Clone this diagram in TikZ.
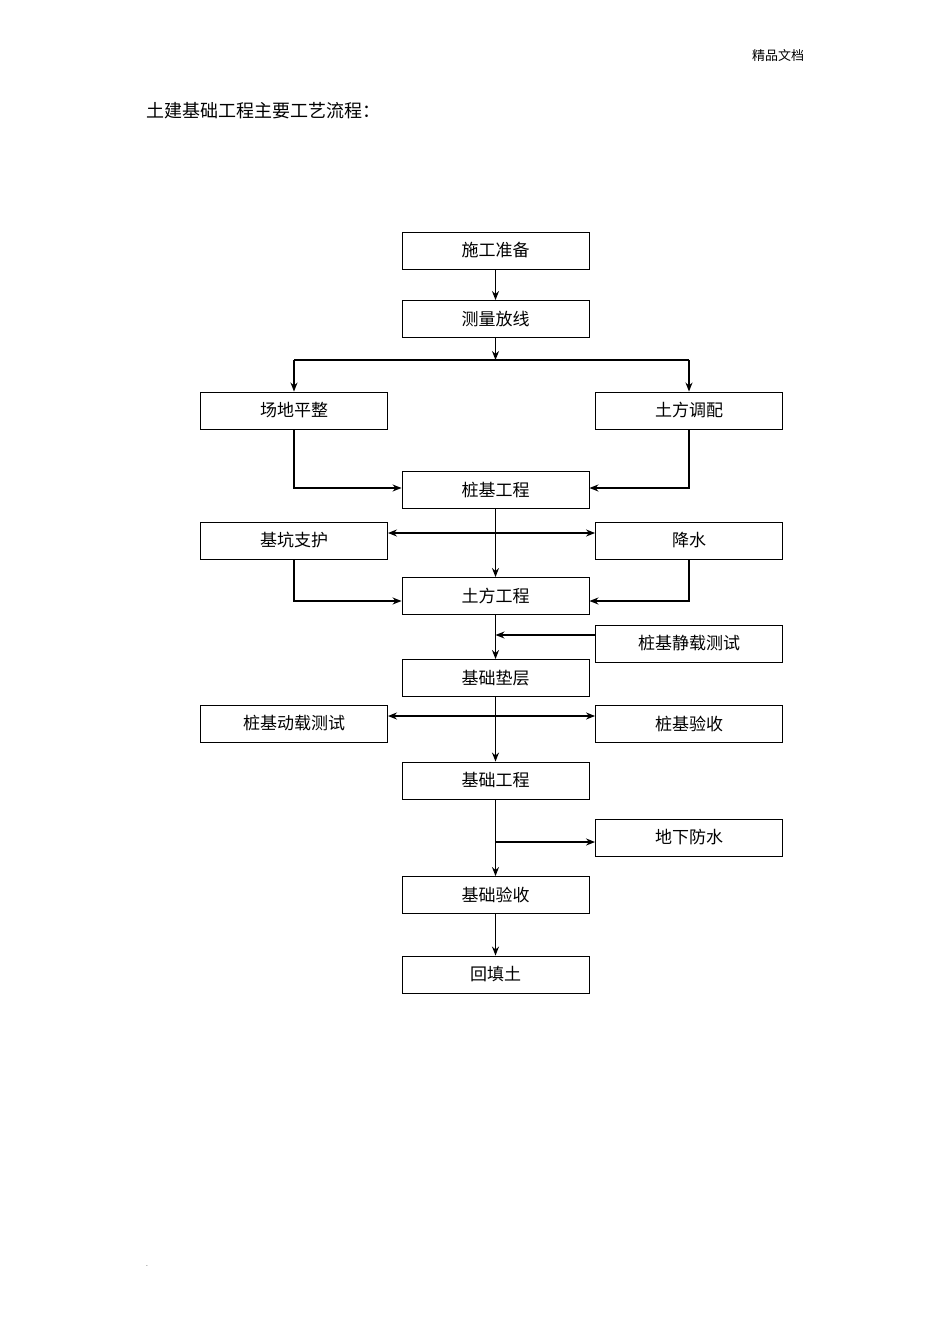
\documentclass[tikz,border=0pt]{standalone}
\usepackage{fontspec}
\newfontfamily\cjk{Noto Sans CJK SC}
\usetikzlibrary{arrows.meta}
\begin{document}
\begin{tikzpicture}[x=1pt,y=-1pt,
 box/.style={draw,line width=0.9pt,minimum width=187pt,minimum height=37pt,inner sep=0pt,font=\cjk\fontsize{17}{17}\selectfont},
 ar/.style={-{Stealth[length=9pt,width=7pt]},line width=1.3pt},
 ln/.style={line width=1.3pt}]
\useasboundingbox (0,0) rectangle (950,1343);
\node[font=\cjk\fontsize{13}{13}\selectfont] (hd) at (778,56) {精品文档};
\node[anchor=west,font=\cjk\fontsize{18}{18}\selectfont] (tt) at (143,111) {土建基础工程主要工艺流程：};
\node[font=\fontsize{8}{8}\selectfont] (dot) at (147,1266) {.};
\node[box] (a) at (495.5,250.5) {施工准备};
\node[box] (b) at (495.5,319) {测量放线};
\node[box] (c) at (294,410.5) {场地平整};
\node[box] (d) at (689,410.5) {土方调配};
\node[box] (e) at (495.5,490) {桩基工程};
\node[box] (f) at (294,540.5) {基坑支护};
\node[box] (g) at (689,540.5) {降水};
\node[box] (h) at (495.5,596) {土方工程};
\node[box] (i) at (689,643.5) {桩基静载测试};
\node[box] (j) at (495.5,678) {基础垫层};
\node[box] (k) at (294,723.5) {桩基动载测试};
\node[box] (l) at (689,723.5) {桩基验收};
\node[box] (m) at (495.5,780.5) {基础工程};
\node[box] (n) at (689,837.5) {地下防水};
\node[box] (o) at (495.5,895) {基础验收};
\node[box] (p) at (495.5,974.5) {回填土};
\draw[ar] (a) -- (b);
\draw[ar] (b) -- (b.south|-0,360);
\coordinate (bl) at (294,360); \coordinate (br) at (689,360);
\draw[ln] (bl) -- (br);
\draw[ar] (bl) -- (c);
\draw[ar] (br) -- (d);
\draw[ar] (c) |- (e.west|-0,488);
\draw[ar] (d) |- (e.east|-0,488);
\draw[ar] (e) -- (h);
\coordinate (x1) at (495.5,533);
\draw[ar] (x1) -- (f.east|-x1);
\draw[ar] (x1) -- (g.west|-x1);
\draw[ar] (f) |- (h.west|-0,601);
\draw[ar] (g) |- (h.east|-0,601);
\draw[ar] (h) -- (j);
\coordinate (x2) at (495.5,635);
\draw[ar] (i.west|-x2) -- (x2);
\draw[ar] (j) -- (m);
\coordinate (x3) at (495.5,716);
\draw[ar] (x3) -- (k.east|-x3);
\draw[ar] (x3) -- (l.west|-x3);
\draw[ar] (m) -- (o);
\coordinate (x4) at (495.5,842);
\draw[ar] (x4) -- (n.west|-x4);
\draw[ar] (o) -- (p);
\end{tikzpicture}
\end{document}
